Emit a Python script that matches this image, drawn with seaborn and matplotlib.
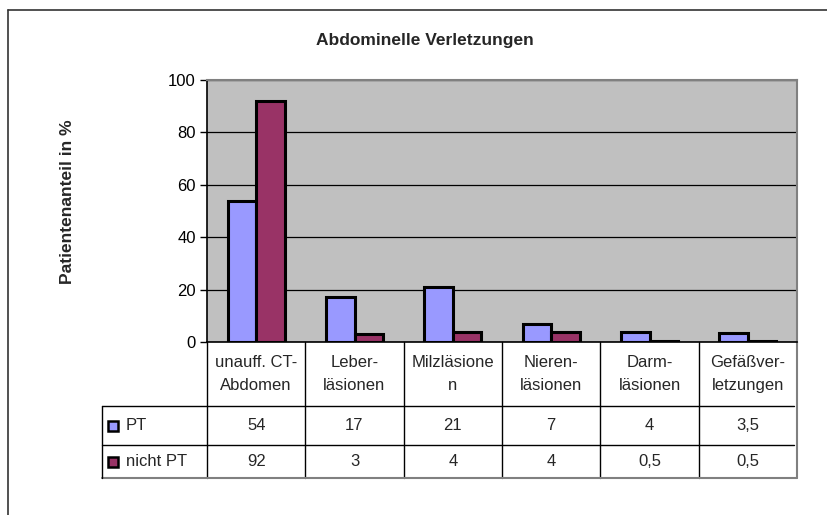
import matplotlib
matplotlib.use("Agg")
import matplotlib.pyplot as plt
from matplotlib.lines import Line2D
import pandas as pd
import seaborn as sns

# Daten (aus der Tabelle des Diagramms)
kategorien = ["unauff. CT-\nAbdomen", "Leber-\nläsionen", "Milzläsione\nn",
              "Nieren-\nläsionen", "Darm-\nläsionen", "Gefäßver-\nletzungen"]
gruppen = ["PT", "nicht PT"]
werte_pt = [54, 17, 21, 7, 4, 3.5]
werte_nicht_pt = [92, 3, 4, 4, 0.5, 0.5]
farben = ["#9999FF", "#993366"]
y_ticks = [0, 20, 40, 60, 80, 100]


def de_zahl(v):
    # deutsche Schreibweise mit Komma
    s = f"{v:g}"
    return s.replace(".", ",")


sns.set_theme(style="white")
plt.rcParams["font.family"] = ["Liberation Sans", "DejaVu Sans"]
fs = 12

df = pd.DataFrame({
    "kategorie": kategorien * 2,
    "gruppe": [gruppen[0]] * len(kategorien) + [gruppen[1]] * len(kategorien),
    "wert": werte_pt + werte_nicht_pt,
})

fig = plt.figure(figsize=(8.27, 5.15), dpi=100)
fig.patch.set_facecolor("white")
ax = fig.add_axes([207 / 827, 1 - 342 / 515, 590 / 827, 262 / 515])

sns.barplot(data=df, x="kategorie", y="wert", hue="gruppe", order=kategorien,
            hue_order=gruppen, palette=farben, width=0.58, edgecolor="black",
            linewidth=2.2, saturation=1, ax=ax, legend=False, zorder=3)

ax.set_facecolor("#C0C0C0")
ax.set_ylim(0, 100)
ax.set_xlim(-0.5, len(kategorien) - 0.5)
ax.set_yticks(y_ticks)
ax.set_yticklabels([str(t) for t in y_ticks], fontsize=fs, color="black")
ax.set_xticks([])
ax.set_xlabel("")
ax.set_ylabel("")
ax.yaxis.grid(True, color="black", linewidth=0.9, zorder=0)
ax.set_axisbelow(True)
ax.tick_params(axis="y", length=5, width=1, color="black", direction="out", pad=3, left=True)
for s in ["left", "bottom"]:
    ax.spines[s].set_color("black")
    ax.spines[s].set_linewidth(1.2)
for s in ["top", "right"]:
    ax.spines[s].set_color("#808080")
    ax.spines[s].set_linewidth(1.5)

# Datentabelle unter dem Diagramm
xt = ax.get_xaxis_transform()
ta = ax.transAxes
y_kopf = -64 / 262
y_pt = -103 / 262
y_unten = -136 / 262
x_links = (102 - 207) / 590

for i in range(len(kategorien)):
    ax.plot([i - 0.5, i - 0.5], [y_unten, 0], transform=xt, color="black",
            lw=1, clip_on=False)
ax.plot([len(kategorien) - 0.5] * 2, [y_unten, 0], transform=xt, color="#808080",
        lw=1.5, clip_on=False)
for y in [y_kopf, y_pt]:
    ax.plot([x_links, 0.995], [y, y], transform=ta, color="black", lw=1, clip_on=False)
ax.plot([x_links, 1], [y_unten, y_unten], transform=ta, color="#808080", lw=1.5,
        clip_on=False)
ax.plot([x_links, x_links], [y_unten, y_kopf], transform=ta, color="black", lw=1,
        clip_on=False)

for i, k in enumerate(kategorien):
    ax.text(i, y_kopf / 2, k, transform=xt, ha="center", va="center", fontsize=fs,
            linespacing=1.6, clip_on=False)
    ax.text(i, (y_kopf + y_pt) / 2, de_zahl(werte_pt[i]), transform=xt,
            ha="center", va="center", fontsize=fs, clip_on=False)
    ax.text(i, (y_pt + y_unten) / 2, de_zahl(werte_nicht_pt[i]), transform=xt,
            ha="center", va="center", fontsize=fs, clip_on=False)

for g, f, (y0, y1) in zip(gruppen, farben, [(y_kopf, y_pt), (y_pt, y_unten)]):
    ym = (y0 + y1) / 2
    ax.plot([x_links + 11 / 590], [ym], transform=ta, marker="s", markersize=7,
            markerfacecolor=f, markeredgecolor="black", markeredgewidth=1.8,
            clip_on=False)
    ax.text(x_links + 24 / 590, ym, g, transform=ta, ha="left", va="center",
            fontsize=fs, clip_on=False)

# Titel und Achsenbeschriftung
fig.text(425 / 827, 1 - 40 / 515, "Abdominelle Verletzungen", ha="center",
         va="center", fontsize=12.5, fontweight="bold")
fig.text(68 / 827, 1 - 202 / 515, "Patientenanteil in %", ha="center", va="center",
         rotation=90, fontsize=12.5, fontweight="bold")

# Rahmen des Diagrammbereichs
fig.add_artist(Line2D([8 / 827, 8 / 827], [0, 1 - 10 / 515], color="#333333", lw=1.2))
fig.add_artist(Line2D([8 / 827, 1], [1 - 10 / 515, 1 - 10 / 515], color="#333333", lw=1.2))

fig.savefig("out.png", dpi=100)
